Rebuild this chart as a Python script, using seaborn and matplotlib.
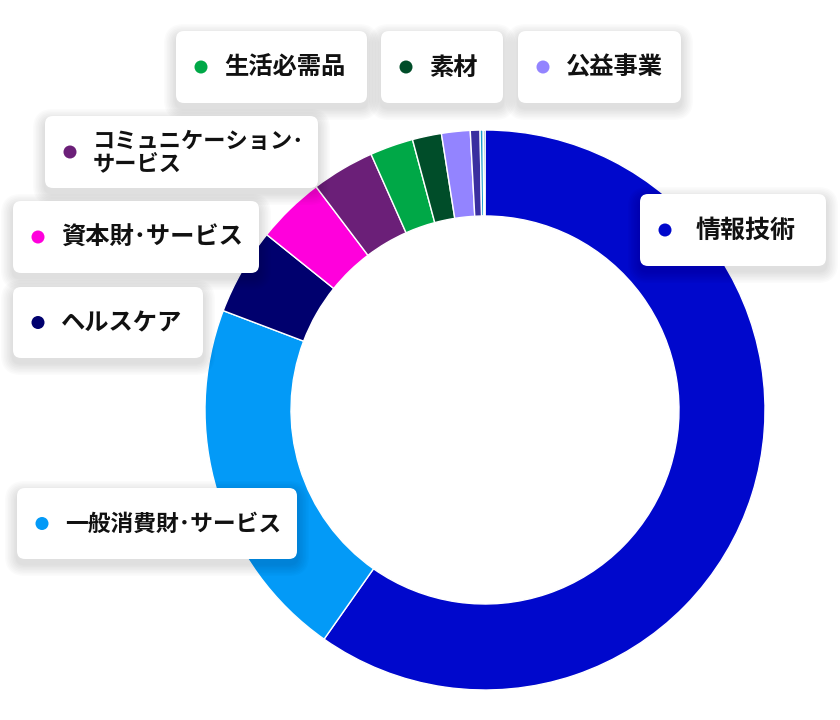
import matplotlib
matplotlib.use("Agg")
import matplotlib.pyplot as plt
import seaborn as sns
from matplotlib.patches import FancyBboxPatch, Circle

# ---- Daten (Anteile in %, im Uhrzeigersinn ab 12 Uhr) ----
sectors = ["情報技術", "一般消費財・サービス", "ヘルスケア", "資本財・サービス",
           "コミュニケーション・\nサービス", "生活必需品", "素材", "公益事業",
           "不動産", "エネルギー", "その他"]
shares = [59.75, 21.03, 5.00, 3.92, 3.64, 2.50, 1.68, 1.65, 0.56, 0.18, 0.10]
colors = ["#0008CC", "#039AF7", "#00006E", "#FF00DC", "#6B1F78", "#00A847",
          "#004D29", "#9384FF", "#3A2FA0", "#1AA0D0", "#0A7A80"]

# Label-Kaesten: (Sektor-Index, links, oben, rechts, unten, Schriftgroesse)
label_boxes = [
    (0, 640, 194, 826, 266, 18.0),
    (1, 17, 488, 297, 559, 16.4),
    (2, 13, 287, 203, 358, 17.5),
    (3, 13, 201, 259, 273, 17.5),
    (4, 45, 116, 318, 188, 16.0),
    (5, 176, 31, 367, 103, 17.5),
    (6, 381, 31, 503, 103, 17.5),
    (7, 518, 31, 681, 103, 17.5),
]

sns.set_theme(style="white")
plt.rcParams['font.family'] = ['Noto Sans CJK JP', 'DejaVu Sans']

fig = plt.figure(figsize=(8.4, 7.2), dpi=100)
ax = fig.add_axes([0, 0, 1, 1])

center = (485, 410)
radius = 280
# y-Achse invertiert -> counterclock=True laeuft am Bildschirm im Uhrzeigersinn
ax.pie(shares, colors=colors, center=center, radius=radius,
       startangle=-90, counterclock=True,
       wedgeprops=dict(width=86, edgecolor="white", linewidth=1.0))

ax.set_xlim(0, 840)
ax.set_ylim(720, 0)
ax.set_aspect("equal")
ax.axis("off")

for idx, x0, y0, x1, y1, fs in label_boxes:
    w, h = x1 - x0, y1 - y0
    # weicher Schatten
    for k in range(8):
        grow = 1.5 * (k + 1)
        sh = FancyBboxPatch((x0 - grow, y0 - grow + 5), w + 2 * grow, h + 2 * grow,
                            boxstyle="round,pad=0,rounding_size=%d" % (8 + grow),
                            facecolor="black", edgecolor="none", alpha=0.016, zorder=5)
        ax.add_patch(sh)
    box = FancyBboxPatch((x0, y0), w, h, boxstyle="round,pad=0,rounding_size=8",
                         facecolor="white", edgecolor="none", zorder=6)
    ax.add_patch(box)
    cy = (y0 + y1) / 2
    ax.add_patch(Circle((x0 + 25, cy), 6.5, facecolor=colors[idx],
                        edgecolor="none", zorder=7))
    tx = x0 + 56 if idx == 0 else x0 + 48
    # schmaler Mittelpunkt wie im Original (proportionaler Satz)
    label = sectors[idx].replace("・", "･")
    ax.text(tx, cy + 1, label, ha="left", va="center", fontsize=fs,
            fontweight="bold", color="#111111", linespacing=0.95, zorder=8)

fig.savefig("out.png", dpi=100)
